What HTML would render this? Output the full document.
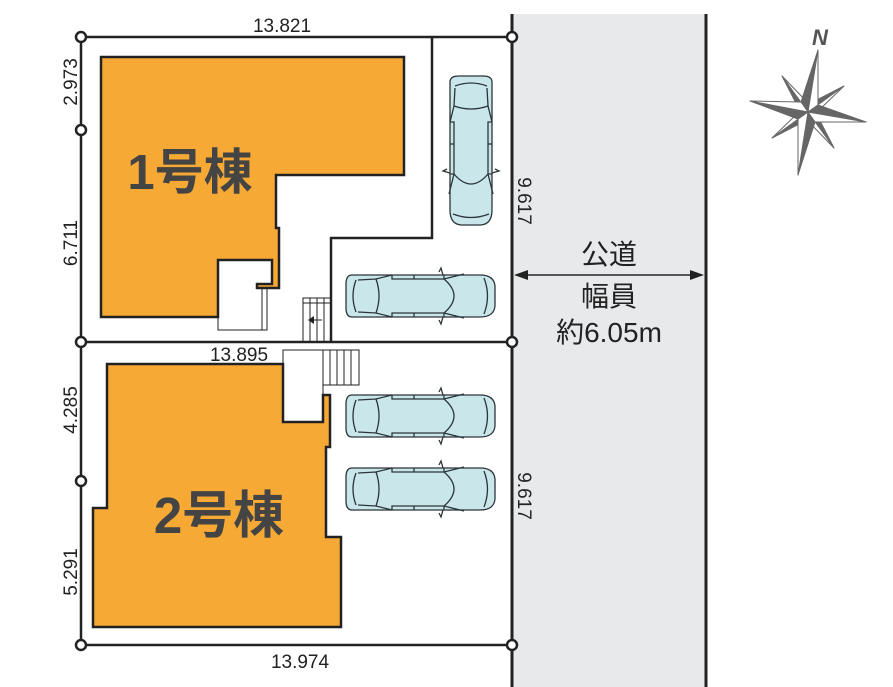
<!DOCTYPE html>
<html><head><meta charset="utf-8"><style>
html,body{margin:0;padding:0;background:#fff}
svg{display:block}
text{font-family:"Liberation Sans","Noto Sans CJK JP",sans-serif}
</style></head><body>
<svg width="893" height="687" viewBox="0 0 893 687" xmlns="http://www.w3.org/2000/svg">
<defs>
<g id="car" stroke="#2b3438" stroke-width="1.3" fill="#c9e6ea">
  <path d="M8 5 Q2 5 2 14 L2 38 Q2 47 8 47 L136 47 Q150 47 151 36 L151 16 Q150 5 136 5 Z"/>
  <path d="M12 10 Q6 26 12 42" fill="none"/>
  <path d="M14 10 L32 9 Q38 26 32 43 L14 42" fill="none"/>
  <path d="M32 9 L48 5 M32 43 L48 47" fill="none"/>
  <path d="M48 5 L48 9 L100 9 L100 5 M48 47 L48 43 L100 43 L100 47" fill="none"/>
  <path d="M100 9 Q120 26 100 43" fill="none"/>
  <path d="M100 9 L120 4 M100 43 L120 48" fill="none"/>
  <path d="M95 2 L97 -2 L99 5 M95 50 L97 54 L99 47" fill="none"/>
  <path d="M140 8 Q147 26 140 44" fill="none"/>
  <line x1="70" y1="5" x2="70" y2="9"/><line x1="70" y1="43" x2="70" y2="47"/>
</g>
</defs>
<rect x="512" y="14" width="194" height="673" fill="#e8e9eb"/>
<line x1="512" y1="14" x2="512" y2="687" stroke="#222" stroke-width="3"/>
<line x1="706" y1="14" x2="706" y2="687" stroke="#222" stroke-width="3"/>
<g stroke="#222" stroke-width="2.5" fill="none">
<line x1="81" y1="37" x2="512" y2="37"/>
<line x1="81" y1="342" x2="512" y2="342"/>
<line x1="81" y1="645" x2="512" y2="645"/>
<line x1="81" y1="37" x2="81" y2="645"/>
</g>
<polyline points="432,37 432,238 331,238 331,342" fill="none" stroke="#222" stroke-width="2.5"/>
<polygon points="101,57 404,57 404,175 276,175 276,228 279,228 279,288 257,288 257,284 272,284 272,260 218,260 218,317 101,317" fill="#f7a935" stroke="#222" stroke-width="2.5"/>
<g stroke="#222" stroke-width="1" fill="none">
<polyline points="218,317 218,330 267,330 267,288"/>
<line x1="262" y1="288" x2="262" y2="330"/>
<rect x="303" y="298" width="28" height="44"/>
<line x1="303" y1="303" x2="331" y2="303"/>
<line x1="310" y1="298" x2="310" y2="342"/><line x1="317" y1="298" x2="317" y2="342"/>
<line x1="324" y1="298" x2="324" y2="342"/>
<line x1="322" y1="320" x2="310" y2="320"/>
</g>
<path d="M308 320 L314 316 L314 324 Z" fill="#222"/>
<text x="190" y="189" font-size="49" font-weight="bold" fill="#444" text-anchor="middle">1号棟</text>
<g stroke="#222" stroke-width="1" fill="#fff">
<rect x="323" y="350" width="36" height="35"/>
<line x1="330" y1="350" x2="330" y2="385"/><line x1="337" y1="350" x2="337" y2="385"/>
<line x1="344" y1="350" x2="344" y2="385"/><line x1="351" y1="350" x2="351" y2="385"/>
<rect x="283" y="350" width="40" height="72"/>
</g>
<polygon points="107,364 283,364 283,422 323,422 323,395 330,395 330,447 326,447 326,537 341,537 341,627 93,627 93,508 107,508" fill="#f7a935" stroke="#222" stroke-width="2.5"/>
<text x="219" y="533" font-size="51" font-weight="bold" fill="#444" text-anchor="middle">2号棟</text>
<use href="#car" transform="translate(497,74) rotate(90)"/>
<use href="#car" transform="translate(344,270)"/>
<use href="#car" transform="translate(344,390)"/>
<use href="#car" transform="translate(344,463)"/>
<g fill="#fff" stroke="#222" stroke-width="2.5">
<circle cx="81" cy="37" r="5"/><circle cx="512" cy="37" r="5"/>
<circle cx="81" cy="130" r="5"/><circle cx="81" cy="342" r="5"/>
<circle cx="512" cy="342" r="5"/><circle cx="81" cy="481" r="5"/>
<circle cx="81" cy="645" r="5"/><circle cx="512" cy="645" r="5"/>
</g>
<g font-size="19" fill="#222">
<text x="282" y="32" text-anchor="middle">13.821</text>
<text x="239" y="361" text-anchor="middle">13.895</text>
<text x="300" y="668" text-anchor="middle">13.974</text>
<text transform="translate(77,82) rotate(-90)" text-anchor="middle">2.973</text>
<text transform="translate(77,243) rotate(-90)" text-anchor="middle">6.711</text>
<text transform="translate(77,410) rotate(-90)" text-anchor="middle">4.285</text>
<text transform="translate(77,572) rotate(-90)" text-anchor="middle">5.291</text>
<text transform="translate(518,201) rotate(90)" text-anchor="middle">9.617</text>
<text transform="translate(518,496) rotate(90)" text-anchor="middle">9.617</text>
</g>
<line x1="516" y1="275" x2="702" y2="275" stroke="#222" stroke-width="1.5"/>
<path d="M514 275 L528 270 L528 280 Z M704 275 L690 270 L690 280 Z" fill="#222"/>
<g font-size="28" fill="#222" text-anchor="middle">
<text x="609" y="264">公道</text>
<text x="609" y="306">幅員</text>
<text x="609" y="342">約6.05m</text>
</g>
<text x="820" y="45" font-size="22" font-weight="bold" font-style="italic" fill="#555" text-anchor="middle">N</text>
<g stroke="#666" stroke-width="1" stroke-linejoin="round">
<!-- diagonals -->
<polygon points="844,86 809,104 808,112" fill="#666"/><polygon points="844,86 816,113 808,112" fill="#fff"/>
<polygon points="834,148 816,113 808,112" fill="#666"/><polygon points="834,148 807,120 808,112" fill="#fff"/>
<polygon points="772,138 807,120 808,112" fill="#666"/><polygon points="772,138 800,111 808,112" fill="#fff"/>
<polygon points="782,76 800,111 808,112" fill="#666"/><polygon points="782,76 809,104 808,112" fill="#fff"/>
<!-- mains -->
<polygon points="818,50 801,102 808,112" fill="#666"/><polygon points="818,50 818,105 808,112" fill="#fff"/>
<polygon points="866,122 818,105 808,112" fill="#666"/><polygon points="866,122 815,122 808,112" fill="#fff"/>
<polygon points="798,175 815,122 808,112" fill="#666"/><polygon points="798,175 798,119 808,112" fill="#fff"/>
<polygon points="750,101 798,119 808,112" fill="#666"/><polygon points="750,101 801,102 808,112" fill="#fff"/>
</g>
</svg>
</body></html>
